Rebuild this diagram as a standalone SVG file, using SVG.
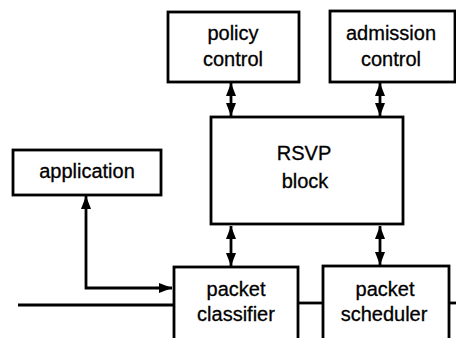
<svg xmlns="http://www.w3.org/2000/svg" width="456" height="338" viewBox="0 0 456 338">
<style>
.box{fill:#fff;stroke:#000;stroke-width:2.8}
.t{font-family:"Liberation Sans",Arial,Helvetica,sans-serif;font-size:20px;fill:#000;stroke:#000;stroke-width:0.3;text-anchor:middle}
.c{fill:none;stroke:#000;stroke-width:2.8}
</style>
<defs>
<marker id="ah" markerUnits="userSpaceOnUse" markerWidth="14" markerHeight="11" refX="13" refY="5" orient="auto-start-reverse">
<path d="M0,0 L13,5 L0,10 z" fill="#000"/>
</marker>
</defs>
<rect width="456" height="338" fill="#fff"/>
<g id="connectors">
<line class="c" x1="231" y1="83" x2="231" y2="116" marker-start="url(#ah)" marker-end="url(#ah)"/>
<line class="c" x1="380" y1="83" x2="380" y2="116" marker-start="url(#ah)" marker-end="url(#ah)"/>
<line class="c" x1="231" y1="226" x2="231" y2="266" marker-start="url(#ah)" marker-end="url(#ah)"/>
<line class="c" x1="380" y1="226" x2="380" y2="265" marker-start="url(#ah)" marker-end="url(#ah)"/>
<path class="c" d="M86,196 V288 H172" marker-start="url(#ah)" marker-end="url(#ah)"/>
<line class="c" x1="18" y1="305" x2="174" y2="305"/>
<line class="c" x1="298" y1="303" x2="323" y2="303"/>
<line class="c" x1="449" y1="303" x2="456" y2="303"/>
</g>
<g id="policy">
<rect class="box" x="168" y="12" width="131" height="70"/>
<text class="t" x="233" y="40">policy</text>
<text class="t" x="233" y="66">control</text>
</g>
<g id="admission">
<rect class="box" x="330" y="11" width="125" height="71"/>
<text class="t" x="391" y="40">admission</text>
<text class="t" x="391" y="66">control</text>
</g>
<g id="rsvp">
<rect class="box" x="211" y="117" width="192" height="107"/>
<text class="t" x="304" y="160">RSVP</text>
<text class="t" x="305" y="188">block</text>
</g>
<g id="application">
<rect class="box" x="13" y="150" width="148" height="45"/>
<text class="t" x="87" y="178">application</text>
</g>
<g id="classifier">
<rect class="box" x="174" y="267" width="124" height="75"/>
<text class="t" x="236" y="296">packet</text>
<text class="t" x="236" y="321">classifier</text>
</g>
<g id="scheduler">
<rect class="box" x="323" y="266" width="126" height="76"/>
<text class="t" x="385" y="296">packet</text>
<text class="t" x="384" y="321">scheduler</text>
</g>
</svg>
